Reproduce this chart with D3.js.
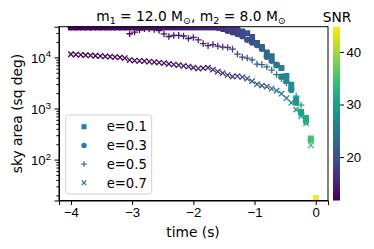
<!DOCTYPE html>
<html>
<head>
<meta charset="utf-8">
<script src="https://cdn.jsdelivr.net/npm/d3@7"></script>
<style>
  body { margin: 0; background: #fff; }
  svg { font-family: "DejaVu Sans", sans-serif; }
  .tick text { fill: #000; }
</style>
</head>
<body>
<svg width="374" height="249"></svg>
<script>
//begin: data
var times = [-4.00, -3.92, -3.84, -3.76, -3.68, -3.60, -3.52, -3.44, -3.36, -3.28,
             -3.20, -3.12, -3.04, -2.96, -2.88, -2.80, -2.72, -2.64, -2.56, -2.48,
             -2.40, -2.32, -2.24, -2.16, -2.08, -2.00, -1.92, -1.84, -1.76, -1.68,
             -1.60, -1.52, -1.44, -1.36, -1.28, -1.20, -1.12, -1.04, -0.96, -0.88,
             -0.80, -0.72, -0.64, -0.56, -0.48, -0.40, -0.32, -0.24, -0.16, -0.08, 0.00];

var snr = [11.8, 11.85, 11.9, 11.95, 12.0, 12.05, 12.1, 12.2, 12.25, 12.3,
           12.4, 12.5, 12.6, 12.7, 12.8, 12.9, 13.0, 13.1, 13.2, 13.3,
           13.45, 13.6, 13.75, 13.9, 14.1, 14.3, 14.6, 14.9, 15.2, 15.6,
           16.0, 16.5, 17.0, 17.5, 18.1, 18.8, 19.5, 20.2, 21.0, 21.8,
           22.7, 23.6, 24.6, 25.6, 26.7, 27.8, 29.0, 30.4, 32.2, 35.0, 44.5];

var areaE01 = [39000, 39000, 39000, 39000, 39000, 39000, 39000, 39000, 39000, 39000,
               39000, 39000, 39000, 39000, 39000, 39000, 39000, 39000, 39000, 39000,
               39000, 39000, 39000, 39000, 39000, 39000, 39000, 39000, 39000, 39000,
               39000, 39000, 39000, 39000, 36000, 32000, 29500, 25000, 19000, 16000,
               12500, 10500, 7000, 6200, 4300, 2900, 1500, 850, 650, 260, 17.7];

var areaE03 = [39000, 39000, 39000, 39000, 39000, 39000, 39000, 39000, 39000, 39000,
               39000, 39000, 39000, 39000, 39000, 39000, 39000, 39000, 39000, 39000,
               39000, 39000, 39000, 39000, 39000, 39000, 39000, 39000, 39000, 39000,
               38000, 36000, 33000, 31000, 28500, 26000, 22000, 19500, 17500, 14700,
               10300, 8600, 7200, 4200, 3500, 2300, 1300, 800, 560, 240];

var areaE05 = [39000, 39000, 39000, 39000, 39000, 39000, 39000, 39000, 39000, 39000,
               39000, 39000, 29000, 31300, 34300, 36300, 35900, 35000, 33500, 28700,
               25600, 26800, 26900, 26200, 23400, 24500, 21900, 18600, 17000, 17800,
               16600, 15900, 15600, 14500, 11600, 10100, 9700, 8900, 7400, 7200,
               6500, 5650, 4600, 3830, 3150, 2500, 1750, 1160, 650, 240];

var areaE07 = [11500, 11350, 11200, 11050, 10900, 10750, 10600, 10450, 10300, 10150,
               10000, 9700, 8850, 8650, 8550, 8450, 8250, 8100, 7920, 7730,
               7460, 7230, 7070, 6810, 6600, 6300, 6030, 6160, 6300, 5760,
               5270, 4920, 4500, 4200, 4280, 4110, 3840, 3430, 2990, 2800,
               2670, 2440, 2230, 1950, 1590, 1300, 950, 710, 515, 190];

var seriesNames = ["e=0.1", "e=0.3", "e=0.5", "e=0.7"];
var seriesMarkers = ["square", "circle", "plus", "cross"];
var seriesAreas = [areaE01, areaE03, areaE05, areaE07];

var xTicks = [-4, -3, -2, -1, 0];
var yTicks = [100, 1000, 10000];
var snrTicks = [20, 30, 40];
//end: data

//begin: layout conf.
var plot = {left: 59, right: 328, top: 26.7, bottom: 200.5},
    cbar = {left: 333, right: 340},
    tickSize = 13.2,
    labelSize = 13.8;
//end: layout conf.

var svg = d3.select("svg");

var x = d3.scaleLinear().domain([-4.195, 0.2]).range([plot.left, plot.right]);
var y = d3.scaleLog().domain([15.85, 39800]).range([plot.bottom, plot.top]);
var snrScale = d3.scaleLinear().domain([11.75, 44.8]).range([plot.bottom, plot.top]);
var color = d3.scaleSequential(d3.interpolateViridis).domain([11.75, 44.8]);

svg.append("clipPath").attr("id", "clip")
  .append("rect")
    .attr("x", plot.left).attr("y", plot.top)
    .attr("width", plot.right - plot.left).attr("height", plot.bottom - plot.top);

function markerPath(kind, k) {
  if (kind == "square") return "M" + (-3 * k) + "," + (-3 * k) + "h" + (6 * k) + "v" + (6 * k) + "h" + (-6 * k) + "Z";
  if (kind == "circle") return d3.symbol(d3.symbolCircle, 32 * k * k)();
  if (kind == "plus") return "M" + (-3.3 * k) + ",0H" + (3.3 * k) + "M0," + (-3.3 * k) + "V" + (3.3 * k);
  return "M-2.7,-2.7L2.7,2.7M-2.7,2.7L2.7,-2.7".replace(/2\.7/g, 2.7 * k);
}

function drawMarker(sel, kind, fill, k) {
  sel.append("path")
    .attr("d", markerPath(kind, k))
    .attr("fill", (kind == "square" || kind == "circle") ? fill : "none")
    .attr("stroke", (kind == "square" || kind == "circle") ? "none" : fill)
    .attr("stroke-width", 1.3);
}

// scatter points, one group per eccentricity
var pts = svg.append("g").attr("clip-path", "url(#clip)");
seriesAreas.forEach(function(areas, s) {
  var data = areas.map(function(a, i) { return {t: times[i], a: a, snr: snr[i]}; });
  var g = pts.append("g").selectAll("g").data(data).enter()
    .append("g")
      .attr("transform", function(d) { return "translate(" + [x(d.t), y(d.a)] + ")"; });
  g.each(function(d) { drawMarker(d3.select(this), seriesMarkers[s], color(d.snr), 1); });
});

// axes
var xAxis = svg.append("g")
    .attr("transform", "translate(0," + plot.bottom + ")")
    .call(d3.axisBottom(x).tickValues(xTicks).tickSize(4.5).tickPadding(3)
      .tickFormat(function(d) { return d < 0 ? "\u2212" + Math.abs(d) : d; }));
xAxis.selectAll("text").style("font-size", tickSize + "px");

var minorY = [];
[10, 100, 1000, 10000].forEach(function(dec) {
  for (var k = 2; k < 10; k++) {
    var v = dec * k;
    if (v > y.domain()[0] && v < y.domain()[1]) minorY.push(v);
  }
});
var yMinor = svg.append("g")
    .attr("transform", "translate(" + plot.left + ",0)")
    .call(d3.axisLeft(y).tickValues(minorY).tickSize(2.6).tickFormat(""));
yMinor.select(".domain").remove();

var yAxis = svg.append("g")
    .attr("transform", "translate(" + plot.left + ",0)")
    .call(d3.axisLeft(y).tickValues(yTicks).tickSize(4.5).tickPadding(3).tickFormat(""));
yAxis.selectAll(".tick").append("text")
    .attr("x", -8).attr("dy", "0.4em")
    .attr("text-anchor", "end")
    .style("font-size", tickSize + "px")
    .text("10")
  .append("tspan")
    .attr("dy", "-0.6em")
    .style("font-size", "9.5px")
    .text(function(d) { return Math.round(Math.log10(d)); });

// frame
svg.append("rect")
    .attr("x", plot.left).attr("y", plot.top)
    .attr("width", plot.right - plot.left).attr("height", plot.bottom - plot.top)
    .attr("fill", "none").attr("stroke", "#000").attr("stroke-width", 1);

svg.selectAll(".domain, .tick line").attr("stroke", "#000");

// legend
var legend = svg.append("g").attr("transform", "translate(65.7,115)");
legend.append("rect")
    .attr("width", 86).attr("height", 79).attr("rx", 2.5)
    .attr("fill", "#fff").attr("fill-opacity", 0.8)
    .attr("stroke", "#d0d0d0").attr("stroke-width", 1);
seriesNames.forEach(function(name, i) {
  var row = legend.append("g").attr("transform", "translate(0," + (11.7 + i * 18.7) + ")");
  drawMarker(row.append("g").attr("transform", "translate(18.3,0)"), seriesMarkers[i], "#2879b5", 0.85);
  row.append("text")
      .attr("x", 41).attr("dy", "0.36em")
      .style("font-size", tickSize + "px")
      .text(name);
});

// axis labels and title
svg.append("text")
    .attr("x", 193).attr("y", 236.5)
    .attr("text-anchor", "middle")
    .style("font-size", labelSize + "px")
    .text("time (s)");

svg.append("text")
    .attr("transform", "translate(21.5,113.5) rotate(-90)")
    .attr("text-anchor", "middle")
    .style("font-size", labelSize + "px")
    .text("sky area (sq deg)");

var title = svg.append("text")
    .attr("x", 191).attr("y", 20.5)
    .attr("text-anchor", "middle")
    .style("font-size", labelSize + "px");
title.append("tspan").text("m");
title.append("tspan").attr("dy", 3).style("font-size", "9.5px").text("1");
title.append("tspan").attr("dy", -3).text(" = 12.0 M");
title.append("tspan").attr("dy", 3).style("font-size", "9.5px").text("\u2299");
title.append("tspan").attr("dy", -3).text(", m");
title.append("tspan").attr("dy", 3).style("font-size", "9.5px").text("2");
title.append("tspan").attr("dy", -3).text(" = 8.0 M");
title.append("tspan").attr("dy", 3).style("font-size", "9.5px").text("\u2299");

// colorbar
var defs = svg.append("defs");
var grad = defs.append("linearGradient").attr("id", "viridis")
    .attr("x1", 0).attr("y1", 1).attr("x2", 0).attr("y2", 0);
d3.range(0, 1.0001, 0.05).forEach(function(f) {
  grad.append("stop").attr("offset", f).attr("stop-color", d3.interpolateViridis(f));
});
svg.append("rect")
    .attr("x", cbar.left).attr("y", plot.top)
    .attr("width", cbar.right - cbar.left).attr("height", plot.bottom - plot.top)
    .attr("fill", "url(#viridis)");

var cAxis = svg.append("g")
    .attr("transform", "translate(" + cbar.right + ",0)")
    .call(d3.axisRight(snrScale).tickValues(snrTicks).tickSize(4).tickPadding(2.5));
cAxis.select(".domain").remove();
cAxis.selectAll("line").attr("stroke", "#000");
cAxis.selectAll("text").style("font-size", tickSize + "px");

svg.append("text")
    .attr("x", 337).attr("y", 21.5)
    .attr("text-anchor", "middle")
    .style("font-size", labelSize + "px")
    .text("SNR");
</script>
</body>
</html>
